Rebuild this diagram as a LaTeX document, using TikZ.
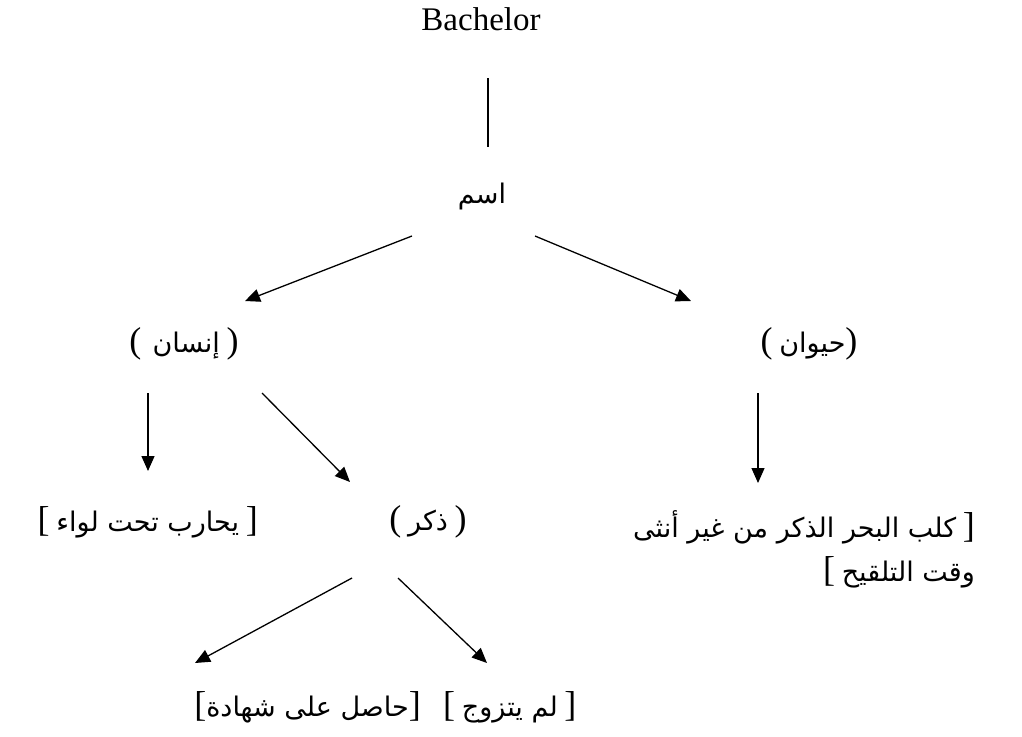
\documentclass[tikz,border=0pt]{standalone}
\usepackage{fontspec}
\setmainfont{Liberation Serif}
\newfontfamily\arabicfont[Script=Arabic]{DejaVu Sans}
\TeXXeTstate=1
\usetikzlibrary{arrows.meta}
\newcommand\bk[1]{{\fontsize{36}{36}\selectfont #1}}
\begin{document}
\begin{tikzpicture}[x=1pt,y=-1pt,
  lbl/.style={inner sep=0pt,font=\fontsize{27}{32}\selectfont},
  conn/.style={line width=1.3pt},
  arr/.style={conn,-{Triangle[length=15pt,width=13pt]}}]
\useasboundingbox (0,0) rectangle (1022,736);
\node[lbl,font=\fontsize{33}{38}\selectfont] (bach) at (481,19) {Bachelor};
\node[lbl] (isam) at (482,196) {{\arabicfont\beginR اسم\endR}};
\node[lbl] (insan) at (184,344) {\bk{(}\, {\arabicfont\beginR إنسان\endR} \bk{)}};
\node[lbl] (hayawan) at (809,344) {\bk{(} {\arabicfont\beginR حيوان\endR}\bk{)}};
\node[lbl,anchor=east] (yuharib) at (258,522) {\bk{[} {\arabicfont\beginR يحارب تحت لواء\endR} \bk{]}};
\node[lbl] (dhakar) at (428,522) {\bk{(} {\arabicfont\beginR ذكر\endR} \bk{)}};
\node[lbl,anchor=west] (kalbA) at (633,527) {{\arabicfont\beginR كلب البحر الذكر من غير أنثى\endR} \bk{]}};
\node[lbl,anchor=east] (kalbB) at (kalbA.east |- 0,572) {\bk{[} {\arabicfont\beginR وقت التلقيح\endR}};
\node[lbl,anchor=east] (hasil) at (421,707) {\bk{[}{\arabicfont\beginR حاصل على شهادة\endR}\bk{]}};
\node[lbl,anchor=west] (lam) at (443,707) {\bk{[} {\arabicfont\beginR لم يتزوج\endR} \bk{]}};
% connector ends
\coordinate (p1) at (488,78); \coordinate (p2) at (488,147);
\coordinate (p3) at (412,236); \coordinate (p4) at (245,301);
\coordinate (p5) at (535,236); \coordinate (p6) at (691,301);
\coordinate (p7) at (148,393); \coordinate (p8) at (148,471);
\coordinate (p9) at (262,393); \coordinate (p10) at (350,482);
\coordinate (p11) at (758,393); \coordinate (p12) at (758,483);
\coordinate (p13) at (352,578); \coordinate (p14) at (195,663);
\coordinate (p15) at (398,578); \coordinate (p16) at (487,663);
\draw[conn] (p1) -- (p2);
\draw[arr] (p3) -- (p4);
\draw[arr] (p5) -- (p6);
\draw[arr] (p7) -- (p8);
\draw[arr] (p9) -- (p10);
\draw[arr] (p11) -- (p12);
\draw[arr] (p13) -- (p14);
\draw[arr] (p15) -- (p16);
\end{tikzpicture}
\end{document}
